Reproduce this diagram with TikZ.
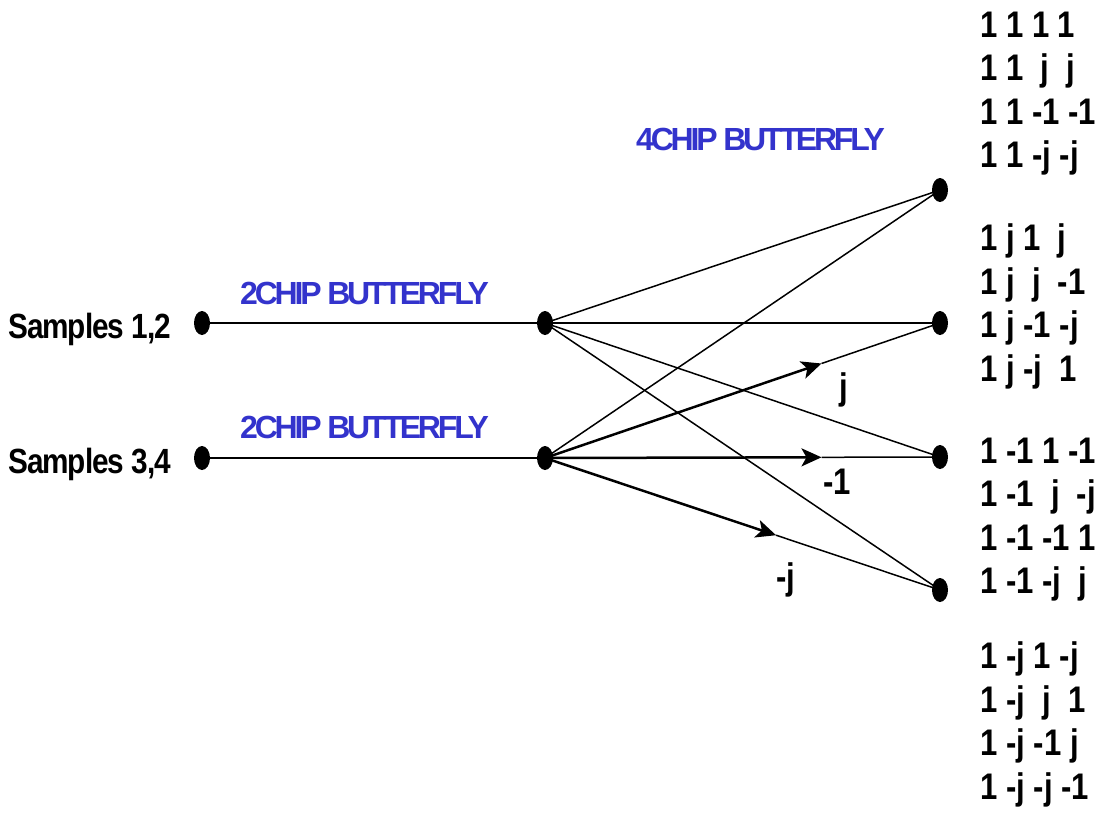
\documentclass[tikz,border=0pt]{standalone}
\usepackage{fontspec}
\setmainfont{Liberation Sans}
\newfontfamily\blk[FakeStretch=0.84]{Liberation Sans Bold}
\newfontfamily\cmp[LetterSpace=-10]{Liberation Sans Bold}
\newfontfamily\smp[FakeStretch=0.85,LetterSpace=-3]{Liberation Sans Bold}
\usetikzlibrary{shapes.geometric,arrows.meta,calc}
\definecolor{bfblue}{RGB}{51,51,204}
\begin{document}
\begin{tikzpicture}[x=1pt,y=-1pt,
  dot/.style={ellipse,fill=black,minimum width=16pt,minimum height=24pt,inner sep=0pt},
  thin/.style={line width=1.5pt},
  thick/.style={line width=2.5pt},
  arr/.style={thick,-{Stealth[length=20pt,width=18pt,inset=5pt]}},
  bflabel/.style={anchor=west,text=bfblue,font=\fontsize{32}{36}\selectfont\cmp,inner sep=0pt},
  smplabel/.style={anchor=east,font=\fontsize{35}{40}\selectfont\smp,inner sep=0pt},
  wlabel/.style={font=\fontsize{37}{43}\selectfont\blk,inner sep=0pt},
  mat/.style={anchor=north west,align=left,inner sep=0pt,font=\fontsize{37}{43.5}\selectfont\blk}]
\useasboundingbox (0,0) rectangle (1105,814);
% nodes
\node[dot] (L1) at (202,323) {};
\node[dot] (L2) at (202,458) {};
\node[dot] (M1) at (545,323) {};
\node[dot] (M2) at (545,458) {};
\node[dot] (R1) at (940,190) {};
\node[dot] (R2) at (940,323) {};
\node[dot] (R3) at (940,457) {};
\node[dot] (R4) at (940,590) {};
% labels
\node[smplabel] (s12) at (171,329) {Samples 1,2};
\node[smplabel] (s34) at (171,464) {Samples 3,4};
\node[bflabel] (b1) at (240,293) {2CHIP BUTTERFLY};
\node[bflabel] (b2) at (240,427) {2CHIP BUTTERFLY};
\node[bflabel] (b4) at (636,139) {4CHIP BUTTERFLY};
% first stage
\draw[thick] (L1.center) -- (M1.center);
\draw[thick] (L2.center) -- (M2.center);
% second stage from M1
\draw[thin] (M1.center) -- (R1.center);
\draw[thin] (M1.center) -- (R2.center);
\draw[thin] (M1.center) -- (R3.center);
\draw[thin] (M1.center) -- (R4.center);
% second stage from M2
\draw[thin] (M2.center) -- (R1.center);
\coordinate (aj) at ($(M2.center)!0.70!(R2.center)$);
\coordinate (am) at ($(M2.center)!0.70!(R3.center)$);
\coordinate (amj) at ($(M2.center)!0.585!(R4.center)$);
\draw[arr] (M2.center) -- (aj);
\draw[thin] (aj) -- (R2.center);
\draw[arr] (M2.center) -- (am);
\draw[thin] (am) -- (R3.center);
\draw[arr] (M2.center) -- (amj);
\draw[thin] (amj) -- (R4.center);
\node[wlabel] (lj) at (844,390) {j};
\node[wlabel] (lm) at (837,482) {-1};
\node[wlabel] (lmj) at (786,580) {-j};
% matrices
\node[mat] (g1) at (980,11.5) {1 1 1 1\\1 1 \ j \ j\\1 1 -1 -1\\1 1 -j -j};
\node[mat] (g2) at (980,223.5) {1 j 1 \ j\\1 j \ j \ -1\\1 j -1 -j\\1 j -j \ 1};
\node[mat] (g3) at (980,437.5) {1 -1 1 -1\\1 -1 \ j \ -j\\1 -1 -1 1\\1 -1 -j \ j};
\node[mat] (g4) at (980,641.5) {1 -j 1 -j\\1 -j \ j \ 1\\1 -j -1 j\\1 -j -j -1};
\end{tikzpicture}
\end{document}
